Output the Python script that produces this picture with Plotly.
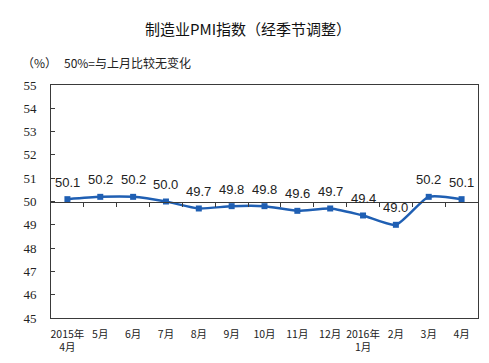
import plotly.graph_objects as go

# ---- data ----
months = ["2015年<br>4月", "5月", "6月", "7月", "8月", "9月", "10月", "11月", "12月",
          "2016年<br>1月", "2月", "3月", "4月"]
pmi = [50.1, 50.2, 50.2, 50.0, 49.7, 49.8, 49.8, 49.6, 49.7, 49.4, 49.0, 50.2, 50.1]
y_ticks = [45, 46, 47, 48, 49, 50, 51, 52, 53, 54, 55]
title_text = "制造业PMI指数（经季节调整）"
unit_text = "（%）"
note_text = "50%=与上月比较无变化"
baseline = 50

# ---- style ----
LINE_COLOR = "#1f5fb3"
AXIS_COLOR = "#3a3a3a"
CJK = "Noto Sans CJK SC"
OFF = 8  # page body margin offset
W, H = 489 - 2 * OFF, 363 - 2 * OFF
ML, MT = 51 - OFF, 85 - OFF
MR = W - (478 - OFF)
MB = H - (318 - OFF)
ymin, ymax = y_ticks[0], y_ticks[-1]
n = len(pmi)
xs = list(range(n))

fig = go.Figure()
fig.add_trace(go.Scatter(
    x=xs, y=pmi, mode="lines+markers",
    line=dict(color=LINE_COLOR, width=2.5, shape="spline", smoothing=0.6),
    marker=dict(symbol="square", size=6, color=LINE_COLOR),
    hoverinfo="skip", showlegend=False,
))
# invisible trace to host the category-axis crossing at the baseline
fig.add_trace(go.Scatter(
    x=xs, y=pmi, xaxis="x2", mode="markers", opacity=0,
    hoverinfo="skip", showlegend=False,
))

for xi, v in zip(xs, pmi):
    fig.add_annotation(x=xi, y=v, text=f"{v:.1f}", showarrow=False,
                       yshift=17, font=dict(family="Liberation Sans, Arial", size=13, color="#222"))

pw = W - ML - MR
ph = H - MT - MB
def px_x(p):
    return (p - OFF - ML) / pw
def px_y(p):
    return (H - MB - (p - OFF)) / ph

fig.add_annotation(xref="paper", yref="paper", x=px_x(20), y=px_y(62), xanchor="left",
                   yanchor="middle", text=unit_text, showarrow=False,
                   font=dict(family=CJK, size=12, color="#222"))
fig.add_annotation(xref="paper", yref="paper", x=px_x(62), y=px_y(62), xanchor="left",
                   yanchor="middle", text=note_text, showarrow=False,
                   font=dict(family=CJK, size=12, color="#222"))

fig.update_layout(
    width=W, height=H,
    margin=dict(l=ML, r=MR, t=MT, b=MB, autoexpand=False),
    paper_bgcolor="white", plot_bgcolor="white",
    title=dict(text=title_text, x=(248 - OFF) / W, xanchor="center",
               y=1 - (30 - OFF) / H, yanchor="middle",
               font=dict(family=CJK, size=15, color="#111")),
    xaxis=dict(range=[-0.5, n - 0.5], tickmode="array", tickvals=xs, ticktext=months,
               showgrid=False, zeroline=False, showline=True, linecolor=AXIS_COLOR,
               linewidth=1, mirror=True, ticks="", ticklabelstandoff=6, automargin=False,
               tickfont=dict(family=CJK, size=10.5, color="#222")),
    xaxis2=dict(overlaying="x", anchor="free",
                position=(baseline - ymin) / (ymax - ymin),
                range=[-0.5, n - 0.5], tickmode="array",
                tickvals=[i + 0.5 for i in range(n - 1)],
                showticklabels=False, showgrid=False, zeroline=False, automargin=False,
                showline=True, linecolor=AXIS_COLOR, linewidth=1,
                ticks="outside", ticklen=4, tickcolor=AXIS_COLOR, side="bottom"),
    yaxis=dict(range=[ymin, ymax], tickmode="array", tickvals=y_ticks, automargin=False,
               showgrid=False, zeroline=False, showline=True, linecolor=AXIS_COLOR,
               linewidth=1, mirror=True, ticks="inside", ticklen=4, tickcolor=AXIS_COLOR,
               ticklabelstandoff=11,
               tickfont=dict(family="Liberation Serif, Times New Roman", size=13, color="#222")),
)

fig.write_html("out.html")
